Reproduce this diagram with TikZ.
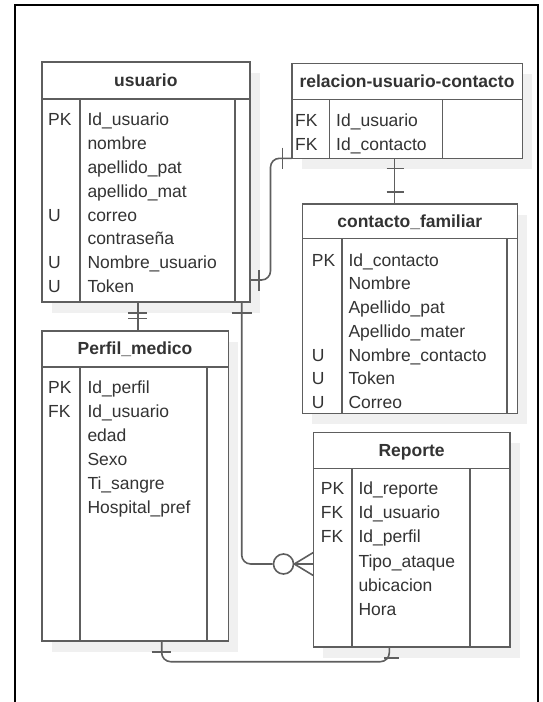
\documentclass[tikz,border=0pt]{standalone}
\usepackage{fontspec}
\setmainfont{Liberation Sans}
\usetikzlibrary{calc}
\definecolor{lc}{HTML}{5E5E5E}
\definecolor{tc}{HTML}{333333}
\definecolor{shc}{HTML}{F0F0F0}
\newcommand\fs{\fontsize{17.5}{21}\selectfont}
\tikzset{
  tbl/.style={draw=lc, line width=1.6pt, rectangle, inner sep=0pt, outer sep=0pt, fill=white},
  tline/.style={draw=lc, line width=1.6pt},
  hdr/.style={anchor=base, inner sep=0pt, font=\fs\bfseries, text=tc},
  fld/.style={anchor=base west, inner sep=0pt, font=\fs, text=tc},
  con/.style={draw=lc, line width=1.6pt, rounded corners=9pt},
  barmark/.style={draw=lc, line width=1.6pt},
}
% name, x1, y1, x2, y2, header bottom, key column, right column, title
\newcommand\ertable[9]{%
  \fill[shc] ({#2+10},{#3+11}) rectangle ({#4+10},{#5+11});
  \node[tbl, minimum width={(#4-#2)*1pt}, minimum height={(#5-#3)*1pt}] (#1) at ({(#2+#4)/2},{(#3+#5)/2}) {};
  \draw[tline] (#2,#6) -- (#4,#6);
  \draw[tline] (#7,#6) -- (#7,#5);
  \draw[tline] (#8,#6) -- (#8,#5);
  \node[hdr] (#1-h) at ({(#2+#4)/2},{(#3+#6)/2+6.2}) {#9};
}
\newcommand\fld[4]{\node[fld] (#1) at (#2,{#3+6.2}) {#4};}
\begin{document}
\begin{tikzpicture}[x=1pt,y=-1pt]
\useasboundingbox (0,0) rectangle (542,702);
\draw[line width=2.5pt, black] (15,702) -- (15,5) -- (538,5) -- (538,702);

% tables
\ertable{usuario}{41.7}{61.7}{250}{301.7}{99}{80}{235}{usuario}
\ertable{relacion}{291.7}{63.3}{522.3}{158.3}{99.3}{329.3}{442.3}{relacion-usuario-contacto}
\ertable{contacto}{302.3}{204}{517.3}{413.3}{238.3}{341.7}{506.7}{contacto\_familiar}
\ertable{perfil}{41.7}{330.7}{228.3}{641}{366.7}{80}{206.7}{Perfil\_medico}
\ertable{reporte}{313.3}{432.3}{510}{647}{468.3}{351.7}{470}{Reporte}

% usuario fields
\fld{u-k1}{48}{119.7}{PK}
\fld{u-k5}{48}{214.9}{U}
\fld{u-k7}{48}{262.5}{U}
\fld{u-k8}{48}{286.3}{U}
\fld{u-n1}{87.3}{119.7}{Id\_usuario}
\fld{u-n2}{87.3}{143.5}{nombre}
\fld{u-n3}{87.3}{167.3}{apellido\_pat}
\fld{u-n4}{87.3}{191.1}{apellido\_mat}
\fld{u-n5}{87.3}{214.9}{correo}
\fld{u-n6}{87.3}{238.7}{contraseña}
\fld{u-n7}{87.3}{262.5}{Nombre\_usuario}
\fld{u-n8}{87.3}{286.3}{Token}

% relacion fields
\fld{r-k1}{295}{120}{FK}
\fld{r-k2}{295}{144.3}{FK}
\fld{r-n1}{336}{120}{Id\_usuario}
\fld{r-n2}{336}{144.3}{Id\_contacto}

% contacto fields
\fld{c-k1}{311.7}{260}{PK}
\fld{c-k5}{311.7}{354.8}{U}
\fld{c-k6}{311.7}{378.5}{U}
\fld{c-k7}{311.7}{402.2}{U}
\fld{c-n1}{348.3}{260}{Id\_contacto}
\fld{c-n2}{348.3}{283.7}{Nombre}
\fld{c-n3}{348.3}{307.4}{Apellido\_pat}
\fld{c-n4}{348.3}{331.1}{Apellido\_mater}
\fld{c-n5}{348.3}{354.8}{Nombre\_contacto}
\fld{c-n6}{348.3}{378.5}{Token}
\fld{c-n7}{348.3}{402.2}{Correo}

% perfil fields
\fld{p-k1}{48}{387.3}{PK}
\fld{p-k2}{48}{411.2}{FK}
\fld{p-n1}{87.3}{387.3}{Id\_perfil}
\fld{p-n2}{87.3}{411.2}{Id\_usuario}
\fld{p-n3}{87.3}{435.1}{edad}
\fld{p-n4}{87.3}{459}{Sexo}
\fld{p-n5}{87.3}{482.9}{Ti\_sangre}
\fld{p-n6}{87.3}{506.8}{Hospital\_pref}

% reporte fields
\fld{e-k1}{320.7}{488.3}{PK}
\fld{e-k2}{320.7}{512.5}{FK}
\fld{e-k3}{320.7}{536.7}{FK}
\fld{e-n1}{358.3}{488.3}{Id\_reporte}
\fld{e-n2}{358.3}{512.5}{Id\_usuario}
\fld{e-n3}{358.3}{536.7}{Id\_perfil}
\fld{e-n4}{358.3}{560.9}{Tipo\_ataque}
\fld{e-n5}{358.3}{585.1}{ubicacion}
\fld{e-n6}{358.3}{609.3}{Hora}

% connector usuario -> perfil (mandatory one)
\draw[con] ([xshift=96pt]usuario.south west) -- ([xshift=96pt]perfil.north west);
\draw[barmark] (128,312.7) -- (147.4,312.7);
\draw[barmark] (128,318.5) -- (147.4,318.5);

% connector usuario -> reporte (zero to many)
\node[circle, draw=lc, line width=1.6pt, fill=white, minimum size=20pt, inner sep=0pt] (circ) at (283.5,564) {};
\draw[con] ([xshift=200pt]usuario.south west) |- (circ.west);
\draw[barmark] (231.7,312.7) -- (251.7,312.7);
\draw[barmark] (reporte.west |- 0,552.5) -- (circ.east) -- (reporte.west |- 0,575.5);
\draw[barmark] (circ.east) -- (reporte.west |- 0,564);

% connector usuario -> relacion
\draw[con] ([yshift=21.7pt]usuario.south east) -- ++(20.5,0) |- (relacion.south west);
\draw[barmark] (259,270) -- (259,290.5);
\draw[barmark] (282.3,147.5) -- (282.3,169);

% connector relacion -> contacto
\draw[con] ([xshift=102.6pt]relacion.south west) -- ([xshift=92pt]contacto.north west);
\draw[barmark] (386.5,168.3) -- (403.5,168.3);
\draw[barmark] (386.5,191.7) -- (403.5,191.7);

% connector perfil -> reporte
\draw[con] ([xshift=120pt]perfil.south west) -- ++(0,20.7) -| ([xshift=76pt]reporte.south west);
\draw[barmark] (151.7,651.7) -- (170.7,651.7);
\draw[barmark] (384,657.7) -- (399.3,657.7);
\end{tikzpicture}
\end{document}
